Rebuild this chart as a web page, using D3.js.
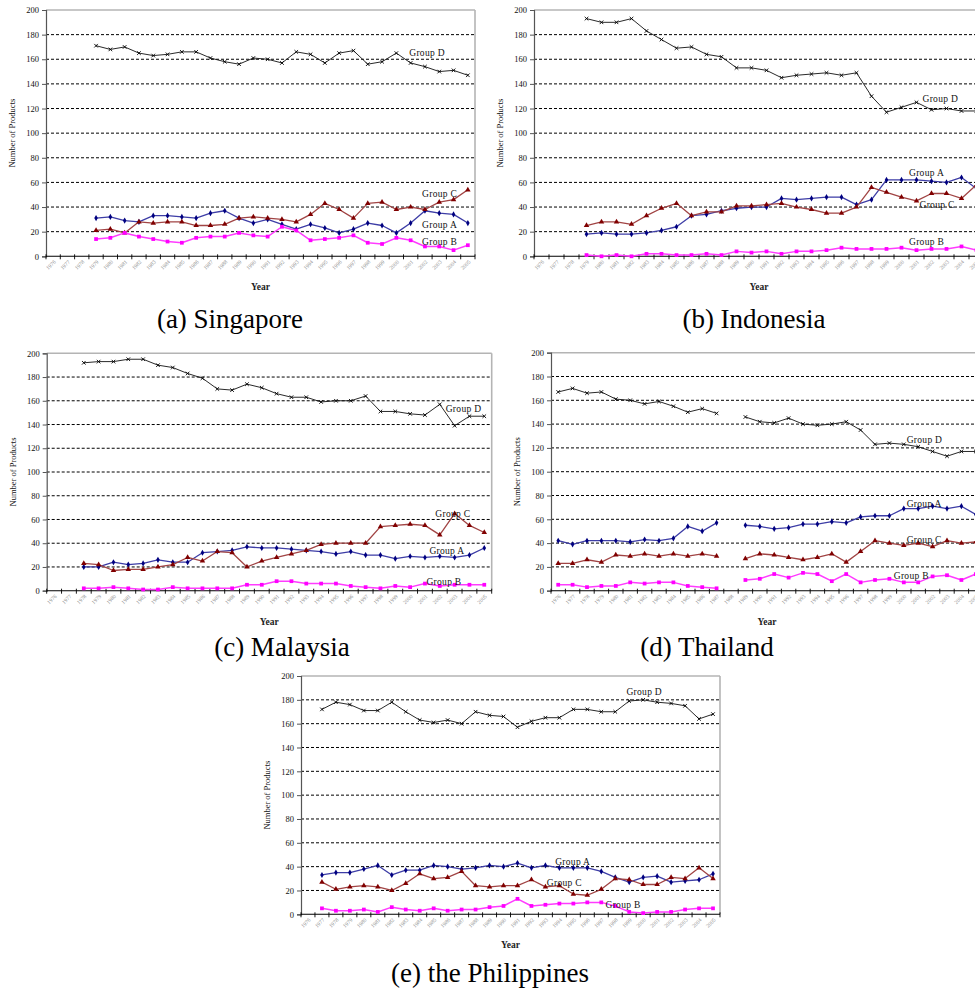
<!DOCTYPE html>
<html>
<head>
<meta charset="utf-8">
<script src="https://cdn.jsdelivr.net/npm/d3@7"></script>
<style>
  body { margin: 0; background: #fff; }
  svg { display: block; }
  text { font-family: "Liberation Serif", "Times New Roman", serif; }
</style>
</head>
<body>
<svg id="chart" width="975" height="988"></svg>
<script>
// Category axis: one slot per year
const years = [1976, 1977, 1978, 1979, 1980, 1981, 1982, 1983, 1984, 1985,
               1986, 1987, 1988, 1989, 1990, 1991, 1992, 1993, 1994, 1995,
               1996, 1997, 1998, 1999, 2000, 2001, 2002, 2003, 2004, 2005];
const yTicks = [0, 20, 40, 60, 80, 100, 120, 140, 160, 180, 200];
const groupNames = ["Group A", "Group B", "Group C", "Group D"];

// Number of products per group, 1976–2005 (null = no data)
const singaporeA = [null, null, null, 31, 32, 29, 28, 33, 33, 32, 31, 35, 37, 31, 27, 30, 26, 22, 26, 23, 19, 22, 27, 25, 19, 27, 37, 35, 34, 27];
const singaporeB = [null, null, null, 14, 15, 19, 16, 14, 12, 11, 15, 16, 16, 19, 17, 16, 24, 21, 13, 14, 15, 17, 11, 10, 15, 13, 8, 8, 5, 9];
const singaporeC = [null, null, null, 21, 22, 19, 28, 27, 28, 28, 25, 25, 26, 31, 32, 31, 30, 28, 34, 43, 38, 31, 43, 44, 38, 40, 38, 44, 46, 54];
const singaporeD = [null, null, null, 171, 168, 170, 165, 163, 164, 166, 166, 161, 158, 156, 161, 160, 157, 166, 164, 157, 165, 167, 156, 158, 165, 157, 154, 150, 151, 147];

const indonesiaA = [null, null, null, 18, 19, 18, 18, 19, 21, 24, 33, 34, 37, 39, 40, 40, 47, 46, 47, 48, 48, 42, 46, 62, 62, 62, 61, 60, 64, 55];
const indonesiaB = [null, null, null, 1, 0, 1, 0, 2, 2, 1, 1, 2, 1, 4, 3, 4, 2, 4, 4, 5, 7, 6, 6, 6, 7, 5, 6, 6, 8, 5];
const indonesiaC = [null, null, null, 25, 28, 28, 26, 33, 39, 43, 33, 36, 36, 41, 41, 42, 43, 40, 38, 35, 35, 40, 56, 52, 48, 45, 51, 51, 47, 58];
const indonesiaD = [null, null, null, 193, 190, 190, 193, 183, 176, 169, 170, 164, 162, 153, 153, 151, 145, 147, 148, 149, 147, 149, 130, 117, 121, 125, 119, 120, 118, 118];

const malaysiaA = [null, null, 20, 20, 24, 22, 23, 26, 24, 24, 32, 33, 34, 37, 36, 36, 35, 34, 33, 31, 33, 30, 30, 27, 29, 28, 29, 28, 30, 36];
const malaysiaB = [null, null, 2, 2, 3, 2, 1, 1, 3, 2, 2, 2, 2, 5, 5, 8, 8, 6, 6, 6, 4, 3, 2, 4, 3, 6, 4, 5, 5, 5];
const malaysiaC = [null, null, 23, 22, 17, 18, 18, 20, 22, 28, 25, 33, 32, 20, 25, 28, 31, 34, 39, 40, 40, 40, 54, 55, 56, 55, 47, 65, 55, 49];
const malaysiaD = [null, null, 192, 193, 193, 195, 195, 190, 188, 183, 179, 170, 169, 174, 171, 166, 163, 163, 159, 160, 160, 164, 151, 151, 149, 148, 157, 139, 147, 147];

const thailandA = [42, 39, 42, 42, 42, 41, 43, 42, 44, 54, 50, 57, null, 55, 54, 52, 53, 56, 56, 58, 57, 62, 63, 63, 69, 69, 71, 69, 71, 64];
const thailandB = [5, 5, 3, 4, 4, 7, 6, 7, 7, 4, 3, 2, null, 9, 10, 14, 11, 15, 14, 8, 14, 7, 9, 10, 7, 7, 12, 13, 9, 14];
const thailandC = [23, 23, 26, 24, 30, 29, 31, 29, 31, 29, 31, 29, null, 27, 31, 30, 28, 26, 28, 31, 24, 33, 42, 40, 38, 40, 37, 42, 40, 41];
const thailandD = [167, 170, 166, 167, 161, 160, 157, 159, 155, 150, 153, 149, null, 146, 142, 141, 145, 140, 139, 140, 142, 135, 123, 124, 123, 121, 117, 113, 117, 117];

const philippinesA = [null, 33, 35, 35, 38, 41, 33, 37, 37, 41, 40, 38, 39, 41, 40, 43, 39, 41, 39, 39, 39, 36, 31, 27, 31, 32, 27, 28, 29, 34];
const philippinesB = [null, 5, 3, 3, 4, 2, 6, 4, 3, 5, 3, 4, 4, 6, 7, 13, 7, 8, 9, 9, 10, 10, 7, 2, 1, 2, 2, 4, 5, 5];
const philippinesC = [null, 27, 21, 23, 24, 23, 20, 26, 34, 30, 31, 36, 24, 23, 24, 24, 29, 23, 24, 17, 16, 21, 30, 29, 25, 25, 31, 30, 39, 30];
const philippinesD = [null, 172, 178, 176, 171, 171, 178, 170, 163, 161, 163, 160, 170, 167, 166, 157, 162, 165, 165, 172, 172, 170, 170, 179, 180, 178, 177, 175, 164, 168];

// Where each series name sits, in [year, value] units of its panel
const singaporeLabels   = [[2001.8, 23], [2001.8, 9.2], [2001.8, 48.2], [2000.9, 162.6]];
const indonesiaLabels   = [[2000.5, 65.2], [2000.5, 9.2], [2001.2, 39.2], [2001.4, 125.2]];
const malaysiaLabels    = [[2001.3, 31], [2001.1, 4.8], [2001.7, 62], [2002.4, 150.5]];
const thailandLabels    = [[2000.2, 70.3], [1999.3, 9.8], [2000.2, 40], [2000.2, 124]];
const philippinesLabels = [[1993.7, 41.4], [1997.3, 5.3], [1993.1, 23.8], [1998.8, 184]];

const captions = ["(a) Singapore", "(b) Indonesia", "(c) Malaysia", "(d) Thailand", "(e) the Philippines"];

// Panel layout (plot rectangle and caption anchor)
const layout = [
  { box: [46, 10, 475, 256.3],    cap: [230, 328] },
  { box: [534, 10, 984, 256.3],   cap: [754, 328] },
  { box: [46.7, 353.3, 491.7, 590.7], cap: [282, 656] },
  { box: [551, 352.7, 983, 590.7], cap: [707, 656] },
  { box: [301, 676, 720, 914.3],  cap: [490, 982] }
];

const panelData = [
  { series: [singaporeA, singaporeB, singaporeC, singaporeD], labels: singaporeLabels },
  { series: [indonesiaA, indonesiaB, indonesiaC, indonesiaD], labels: indonesiaLabels },
  { series: [malaysiaA, malaysiaB, malaysiaC, malaysiaD], labels: malaysiaLabels },
  { series: [thailandA, thailandB, thailandC, thailandD], labels: thailandLabels },
  { series: [philippinesA, philippinesB, philippinesC, philippinesD], labels: philippinesLabels }
];

// Per-group look: line colour, marker colour, marker shape
const styles = [
  { line: "#3d3da6", fill: "#000080", shape: "diamond", w: 1.3 },
  { line: "#ff3cff", fill: "#ff00ff", shape: "square",  w: 1.5 },
  { line: "#a14444", fill: "#800000", shape: "triangle", w: 1.3 },
  { line: "#111111", fill: "#000000", shape: "x",       w: 0.9 }
];
const drawOrder = [3, 0, 2, 1];

const svg = d3.select("#chart");
svg.append("rect").attr("width", 975).attr("height", 988).attr("fill", "#fff");

function markerPath(shape) {
  if (shape === "diamond") return d3.symbol(d3.symbolDiamond, 11)();
  if (shape === "square") return d3.symbol(d3.symbolSquare, 14)();
  if (shape === "triangle") return d3.symbol(d3.symbolTriangle, 13)();
  return "M-1.8,-1.8L1.8,1.8M-1.8,1.8L1.8,-1.8";
}

panelData.forEach((p, pi) => {
  const [L, T, R, B] = layout[pi].box;
  const g = svg.append("g");

  const x = d3.scaleBand().domain(years).range([L, R]).padding(0);
  const cx = yr => x(yr) + x.bandwidth() / 2;
  const xYear = d3.scaleLinear().domain([1975.5, 2005.5]).range([L, R]);
  const y = d3.scaleLinear().domain([0, 200]).range([B, T]);

  // dashed gridlines
  g.selectAll(".grid").data(yTicks.filter(v => v > 0 && v < 200)).join("line")
    .attr("x1", L).attr("x2", R).attr("y1", d => y(d)).attr("y2", d => y(d))
    .attr("stroke", "#000").attr("stroke-width", 1).attr("stroke-dasharray", "3,2");

  // plot frame (top and right)
  g.append("line").attr("x1", L).attr("x2", R).attr("y1", y(200)).attr("y2", y(200))
    .attr("stroke", "#b4b4b4").attr("stroke-width", 1.6);
  g.append("line").attr("x1", R).attr("x2", R).attr("y1", y(200)).attr("y2", y(0))
    .attr("stroke", "#b4b4b4").attr("stroke-width", 1.6);

  // y axis
  const yAxis = d3.axisLeft(y).tickValues(yTicks).tickSize(4).tickPadding(3);
  const ya = g.append("g").attr("transform", `translate(${L},0)`).call(yAxis);
  ya.select(".domain").attr("stroke", "#555").attr("stroke-width", 1.2);
  ya.selectAll(".tick line").attr("stroke", "#555");
  ya.selectAll(".tick text").attr("font-size", 8.5).attr("fill", "#111");

  // x axis: ticks on category boundaries, rotated year labels
  g.append("line").attr("x1", L).attr("x2", R).attr("y1", B).attr("y2", B)
    .attr("stroke", "#000").attr("stroke-width", 1.1);
  const edges = years.map(yr => x(yr)).concat([x(years[years.length - 1]) + x.bandwidth()]);
  g.selectAll(".xt").data(edges).join("line")
    .attr("x1", d => d).attr("x2", d => d).attr("y1", B - 2).attr("y2", B + 3)
    .attr("stroke", "#000").attr("stroke-width", 0.9);
  g.selectAll(".xl").data(years).join("text")
    .attr("transform", d => `translate(${cx(d) + 3},${B + 6}) rotate(-45)`)
    .attr("text-anchor", "end").attr("font-size", 5.5).attr("fill", "#8a8a8a")
    .text(d => d);

  // axis titles
  g.append("text").attr("x", (L + R) / 2).attr("y", B + 34)
    .attr("text-anchor", "middle").attr("font-size", 9.5).attr("font-weight", "bold")
    .attr("fill", "#222").text("Year");
  g.append("text").attr("transform", `translate(${L - 31},${(T + B) / 2}) rotate(-90)`)
    .attr("text-anchor", "middle").attr("font-size", 8.5).attr("fill", "#111")
    .text("Number of Products");

  // series lines and markers
  drawOrder.forEach(si => {
    const vals = p.series[si];
    const st = styles[si];
    const pts = years.map((yr, i) => ({ yr, v: vals[i] }));
    const line = d3.line().defined(d => d.v !== null).x(d => cx(d.yr)).y(d => y(d.v));
    g.append("path").attr("d", line(pts)).attr("fill", "none")
      .attr("stroke", st.line).attr("stroke-width", st.w).attr("stroke-linejoin", "round");
    const m = g.selectAll(null).data(pts.filter(d => d.v !== null)).join("path")
      .attr("transform", d => `translate(${cx(d.yr)},${y(d.v)})`)
      .attr("d", markerPath(st.shape));
    if (st.shape === "x") m.attr("fill", "none").attr("stroke", st.fill).attr("stroke-width", 0.9);
    else m.attr("fill", st.fill);
  });

  // series names
  g.selectAll(".gl").data(p.labels).join("text")
    .attr("x", d => xYear(d[0])).attr("y", d => y(d[1]))
    .attr("font-size", 9.5).attr("fill", "#111").attr("letter-spacing", 0.3)
    .text((d, i) => groupNames[i]);

  // caption
  svg.append("text").attr("x", layout[pi].cap[0]).attr("y", layout[pi].cap[1])
    .attr("text-anchor", "middle").attr("font-size", 27).attr("fill", "#000")
    .text(captions[pi]);
});
</script>
</body>
</html>
